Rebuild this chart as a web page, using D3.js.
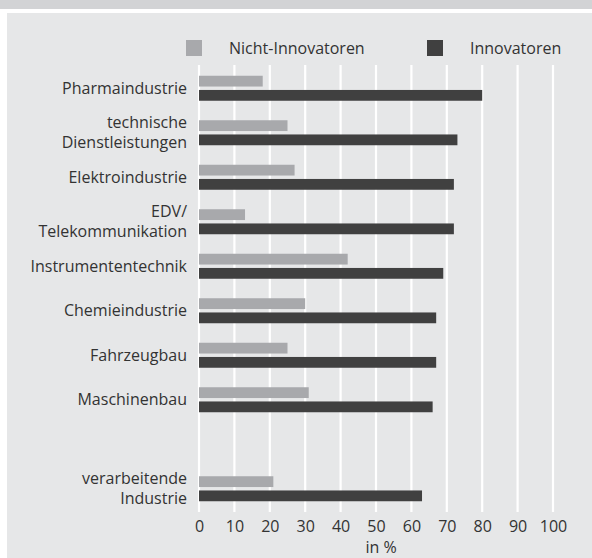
<!DOCTYPE html>
<html>
<head>
<meta charset="utf-8">
<script src="https://cdn.jsdelivr.net/npm/d3@7"></script>
<style>
  body { margin: 0; background: #fff; }
  text { font-family: "Open Sans", sans-serif; fill: #333; }
</style>
</head>
<body>
<div id="chart"></div>
<script>
// Data
const categories = ["Pharmaindustrie", "technische\nDienstleistungen", "Elektroindustrie",
  "EDV/\nTelekommunikation", "Instrumententechnik", "Chemieindustrie", "Fahrzeugbau",
  "Maschinenbau", "verarbeitende\nIndustrie"];
const nichtInnovatoren = [18, 25, 27, 13, 42, 30, 25, 31, 21];
const innovatoren = [80, 73, 72, 72, 69, 67, 67, 66, 63];
const seriesNames = ["Nicht-Innovatoren", "Innovatoren"];
const tickValues = [0, 10, 20, 30, 40, 50, 60, 70, 80, 90, 100];
const axisTitle = "in %";

const width = 592;
const height = 558;
const fontSize = "16px";
const colors = { "Nicht-Innovatoren": "#a8a9ac", "Innovatoren": "#404040" };

const rows = categories.map((c, i) => ({
  name: c,
  values: [
    { key: seriesNames[0], value: nichtInnovatoren[i] },
    { key: seriesNames[1], value: innovatoren[i] }
  ]
}));

// empty slot before the total row
const slots = categories.slice(0, 8).concat(["__gap__"], categories.slice(8));

const svg = d3.select("#chart").append("svg")
  .attr("width", width)
  .attr("height", height);

// top band + panel
svg.append("rect").attr("x", 0).attr("y", 0).attr("width", width).attr("height", 9).attr("fill", "#d2d3d5");
svg.append("rect").attr("x", 7).attr("y", 13).attr("width", width - 7).attr("height", height - 13).attr("fill", "#e6e7e8");

const x = d3.scaleLinear().domain([0, 100]).range([199, 553]);
const y = d3.scaleBand().domain(slots).range([66, 511]);
const inner = d3.scaleBand().domain(seriesNames).range([-12.5, 12.5]).paddingInner(0.24);

// grid lines
svg.append("g").selectAll("line")
  .data(tickValues)
  .join("line")
  .attr("x1", d => x(d)).attr("x2", d => x(d))
  .attr("y1", 65).attr("y2", 512)
  .attr("stroke", "#fff")
  .attr("stroke-width", 2.2);

// bars
const groups = svg.append("g").selectAll("g")
  .data(rows)
  .join("g")
  .attr("transform", d => `translate(0,${y(d.name) + y.bandwidth() / 2})`);

groups.selectAll("rect")
  .data(d => d.values)
  .join("rect")
  .attr("x", x(0))
  .attr("y", d => inner(d.key))
  .attr("width", d => x(d.value) - x(0))
  .attr("height", inner.bandwidth())
  .attr("fill", d => colors[d.key]);

// category labels
groups.append("text")
  .attr("x", 187)
  .attr("text-anchor", "end")
  .style("font-size", fontSize)
  .each(function(d) {
    const lines = d.name.split("\n");
    const t = d3.select(this);
    if (lines.length === 1) {
      t.append("tspan").attr("x", 187).attr("y", 5.5).text(lines[0]);
    } else {
      t.append("tspan").attr("x", 187).attr("y", -5).text(lines[0]);
      t.append("tspan").attr("x", 187).attr("y", 15).text(lines[1]);
    }
  });

// x axis
const axis = svg.append("g")
  .attr("transform", "translate(0,515)")
  .call(d3.axisBottom(x).tickValues(tickValues).tickSize(0).tickPadding(0));
axis.select(".domain").remove();
axis.selectAll("text")
  .attr("y", 17)
  .attr("dy", null)
  .style("font-size", fontSize)
  .style("font-family", "'Open Sans', sans-serif")
  .attr("fill", "#333");

svg.append("text")
  .attr("x", 381)
  .attr("y", 553)
  .attr("text-anchor", "middle")
  .style("font-size", fontSize)
  .text(axisTitle);

// legend
const legendX = [186, 427];
const legend = svg.append("g").selectAll("g")
  .data(seriesNames)
  .join("g")
  .attr("transform", (d, i) => `translate(${legendX[i]},40)`);
legend.append("rect")
  .attr("width", 16).attr("height", 16)
  .attr("fill", d => colors[d]);
legend.append("text")
  .attr("x", 43).attr("y", 14)
  .style("font-size", fontSize)
  .text(d => d);
</script>
</body>
</html>
